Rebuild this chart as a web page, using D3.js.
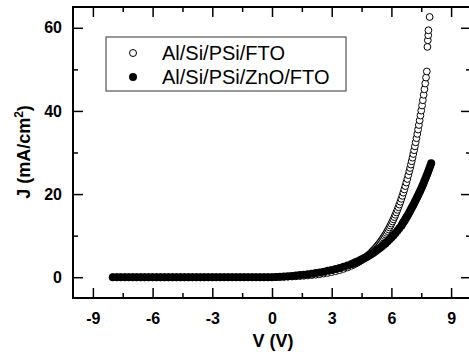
<!DOCTYPE html>
<html>
<head>
<meta charset="utf-8">
<script src="https://cdn.jsdelivr.net/npm/d3@7"></script>
<style>
  body { margin: 0; background: #fff; }
  svg { display: block; font-family: "Liberation Sans", Arial, sans-serif; }
  .tick text { font-weight: bold; font-size: 16px; fill: #000; }
  .tick line { stroke: #000; stroke-width: 1.5; }
  .domain { display: none; }
</style>
</head>
<body>
<svg class="chart" width="469" height="354"></svg>
<script>
// Al/Si/PSi/FTO (open circles)
var ftoV = [-8.0,-7.8,-7.6,-7.4,-7.2,-7.0,-6.8,-6.6,-6.4,-6.2,-6.0,-5.8,-5.6,-5.4,-5.2,-5.0,-4.8,-4.6,-4.4,-4.2,
  -4.0,-3.8,-3.6,-3.4,-3.2,-3.0,-2.8,-2.6,-2.4,-2.2,-2.0,-1.8,-1.6,-1.4,-1.2,-1.0,-0.8,-0.6,-0.4,-0.2,
  0.0,0.2,0.4,0.6,0.8,1.0,1.2,1.4,1.6,1.8,2.0,2.2,2.4,2.6,2.8,3.0,3.2,3.4,3.6,3.8,4.0,
  4.1,4.2,4.3,4.4,4.5,4.6,4.7,4.8,4.9,5.0,
  5.05,5.10,5.15,5.20,5.25,5.30,5.35,5.40,5.45,5.50,5.55,5.60,5.65,5.70,5.75,5.80,5.85,5.90,5.95,6.00,
  6.05,6.10,6.15,6.20,6.25,6.30,6.35,6.40,6.45,6.50,6.55,6.60,6.65,6.70,6.75,6.80,6.85,6.90,
  6.94,6.98,7.02,7.06,7.10,7.14,7.18,7.22,7.26,7.30,7.34,7.38,7.42,7.46,7.50,7.54,7.58,7.62,7.66,7.70,7.74,7.78,
  7.81,7.83,7.85,7.86,7.92];
var ftoJ = [0,0,0,0,0,0,0,0,0,0,0,0,0,0,0,0,0,0,0,0,
  0,0,0,0,0,0,0,0,0,0,0,0,0,0,0,0,0,0,0,0,
  0,0.02,0.05,0.08,0.12,0.16,0.21,0.27,0.34,0.41,0.50,0.61,0.73,0.87,1.03,1.23,1.45,1.71,2.01,2.35,2.77,
  3.00,3.24,3.50,3.79,4.09,4.42,4.78,5.16,5.58,6.02,
  6.26,6.50,6.75,7.02,7.29,7.58,7.87,8.18,8.50,8.83,9.17,9.52,9.89,10.28,10.67,11.09,11.52,11.97,12.43,12.91,
  13.41,13.92,14.46,15.02,15.60,16.20,16.83,17.47,18.15,18.85,19.57,20.33,21.11,21.92,22.77,23.63,24.55,25.49,
  26.27,27.09,27.90,28.75,29.64,30.55,31.48,32.45,33.44,34.47,35.52,36.61,37.73,38.89,40.08,41.31,42.57,43.88,45.21,46.60,48.02,49.49,
  55.4,57.0,58.2,59.4,62.6];

// Al/Si/PSi/ZnO/FTO (filled circles)
var znoV = [-8.0,-7.8,-7.6,-7.4,-7.2,-7.0,-6.8,-6.6,-6.4,-6.2,-6.0,-5.8,-5.6,-5.4,-5.2,-5.0,-4.8,-4.6,-4.4,-4.2,
  -4.0,-3.8,-3.6,-3.4,-3.2,-3.0,-2.8,-2.6,-2.4,-2.2,-2.0,-1.8,-1.6,-1.4,-1.2,-1.0,-0.8,-0.6,-0.4,-0.2,
  0.0,0.2,0.4,0.6,0.8,1.0,1.2,1.4,1.6,1.8,2.0,2.2,2.4,2.6,2.8,3.0,3.2,3.4,3.6,3.8,4.0,
  4.1,4.2,4.3,4.4,4.5,4.6,4.7,4.8,4.9,5.0,5.1,5.2,5.3,5.4,5.5,5.6,5.7,5.8,5.9,6.0,6.1,6.2,6.3,6.4,6.5,
  6.55,6.60,6.65,6.70,6.75,6.80,6.85,6.90,6.95,7.00,7.05,7.10,7.15,7.20,7.25,7.30,7.35,7.40,7.45,7.50,
  7.55,7.60,7.65,7.70,7.75,7.80,7.85,7.90,7.95,8.00];
var znoJ = [0,0,0,0,0,0,0,0,0,0,0,0,0,0,0,0,0,0,0,0,
  0,0,0,0,0,0,0,0,0,0,0,0,0,0,0,0,0,0,0,0,
  0,0.05,0.11,0.17,0.25,0.32,0.41,0.51,0.61,0.73,0.86,1.00,1.16,1.33,1.53,1.74,1.98,2.24,2.52,2.84,3.19,
  3.38,3.58,3.79,4.01,4.24,4.49,4.74,5.01,5.29,5.59,5.90,6.23,6.58,6.94,7.32,7.72,8.14,8.59,9.05,9.54,10.06,10.60,11.17,11.77,12.39,
  12.8,13.2,13.55,13.95,14.35,14.75,15.15,15.6,16.05,16.5,16.95,17.4,17.85,18.35,18.8,19.3,19.8,20.3,20.8,21.35,
  21.9,22.45,23.0,23.6,24.2,24.8,25.45,26.1,26.75,27.4];

var xMajor = [-9, -6, -3, 0, 3, 6, 9];
var xMinor = [-7.5, -4.5, -1.5, 1.5, 4.5, 7.5];
var yMajor = [0, 20, 40, 60];
var yMinor = [10, 30, 50];
var legendLabels = ['Al/Si/PSi/FTO', 'Al/Si/PSi/ZnO/FTO'];

var svg = d3.select('.chart');
var mLeft = 73, mRight = 471, mTop = 7, mBottom = 298;

var x = d3.scaleLinear().domain([-10, 10]).range([mLeft, mRight]);
var y = d3.scaleLinear().domain([-5, 65]).range([mBottom, mTop]);

function zip(vs, js) {
  return vs.map(function(v, i) { return {v: v, j: js[i]}; });
}

//plain hyphen for negatives, like the original
function plain(d) { return String(d); }

//axes, ticks pointing inward on all four sides
svg.append('g')
  .attr('transform', 'translate('+[0, mBottom]+')')
  .call(d3.axisBottom(x).tickValues(xMajor).tickSize(-10).tickPadding(15).tickFormat(plain));
svg.append('g')
  .attr('transform', 'translate('+[0, mBottom]+')')
  .call(d3.axisBottom(x).tickValues(xMinor).tickSize(-5).tickFormat(''));
svg.append('g')
  .attr('transform', 'translate('+[0, mTop]+')')
  .call(d3.axisTop(x).tickValues(xMajor).tickSize(-10).tickFormat(''));
svg.append('g')
  .attr('transform', 'translate('+[0, mTop]+')')
  .call(d3.axisTop(x).tickValues(xMinor).tickSize(-5).tickFormat(''));

svg.append('g')
  .attr('transform', 'translate('+[mLeft, 0]+')')
  .call(d3.axisLeft(y).tickValues(yMajor).tickSize(-10).tickPadding(11).tickFormat(plain));
svg.append('g')
  .attr('transform', 'translate('+[mLeft, 0]+')')
  .call(d3.axisLeft(y).tickValues(yMinor).tickSize(-5).tickFormat(''));
svg.append('g')
  .attr('transform', 'translate('+[mRight, 0]+')')
  .call(d3.axisRight(y).tickValues(yMajor).tickSize(-10).tickFormat(''));
svg.append('g')
  .attr('transform', 'translate('+[mRight, 0]+')')
  .call(d3.axisRight(y).tickValues(yMinor).tickSize(-5).tickFormat(''));

//frame
svg.append('rect')
  .attr('x', mLeft)
  .attr('y', mTop)
  .attr('width', mRight - mLeft)
  .attr('height', mBottom - mTop)
  .attr('fill', 'none')
  .attr('stroke', '#000')
  .attr('stroke-width', 2);

//data: open circles first, filled on top
svg.append('g')
  .selectAll('circle')
  .data(zip(ftoV, ftoJ))
  .enter().append('circle')
  .attr('cx', function(d) { return x(d.v); })
  .attr('cy', function(d) { return y(d.j); })
  .attr('r', 3.4)
  .attr('fill', '#fff')
  .attr('stroke', '#000')
  .attr('stroke-width', 1);

svg.append('g')
  .selectAll('circle')
  .data(zip(znoV, znoJ))
  .enter().append('circle')
  .attr('cx', function(d) { return x(d.v); })
  .attr('cy', function(d) { return y(d.j); })
  .attr('r', 4)
  .attr('fill', '#000');

//legend
var legend = svg.append('g')
  .attr('transform', 'translate('+[106, 37]+')');

legend.append('rect')
  .attr('width', 240)
  .attr('height', 54)
  .attr('fill', '#fff')
  .attr('stroke', '#333')
  .attr('stroke-width', 1);

legend.append('circle')
  .attr('cx', 27)
  .attr('cy', 16)
  .attr('r', 3.5)
  .attr('fill', '#fff')
  .attr('stroke', '#000');

legend.append('circle')
  .attr('cx', 27)
  .attr('cy', 40)
  .attr('r', 4)
  .attr('fill', '#000');

legend.selectAll('text')
  .data(legendLabels)
  .enter().append('text')
  .attr('x', 56)
  .attr('y', function(d, i) { return 23 + i*24; })
  .attr('font-size', '20px')
  .text(function(d) { return d; });

//axis titles
svg.append('text')
  .attr('x', 273)
  .attr('y', 347)
  .attr('text-anchor', 'middle')
  .attr('font-weight', 'bold')
  .attr('font-size', '18px')
  .text('V (V)');

var yTitle = svg.append('text')
  .attr('transform', 'translate('+[30, 152]+') rotate(-90)')
  .attr('text-anchor', 'middle')
  .attr('font-weight', 'bold')
  .attr('font-size', '18px');
yTitle.append('tspan').text('J (mA/cm');
yTitle.append('tspan').attr('baseline-shift', 'super').attr('font-size', '12px').text('2');
yTitle.append('tspan').text(')');
</script>
</body>
</html>
